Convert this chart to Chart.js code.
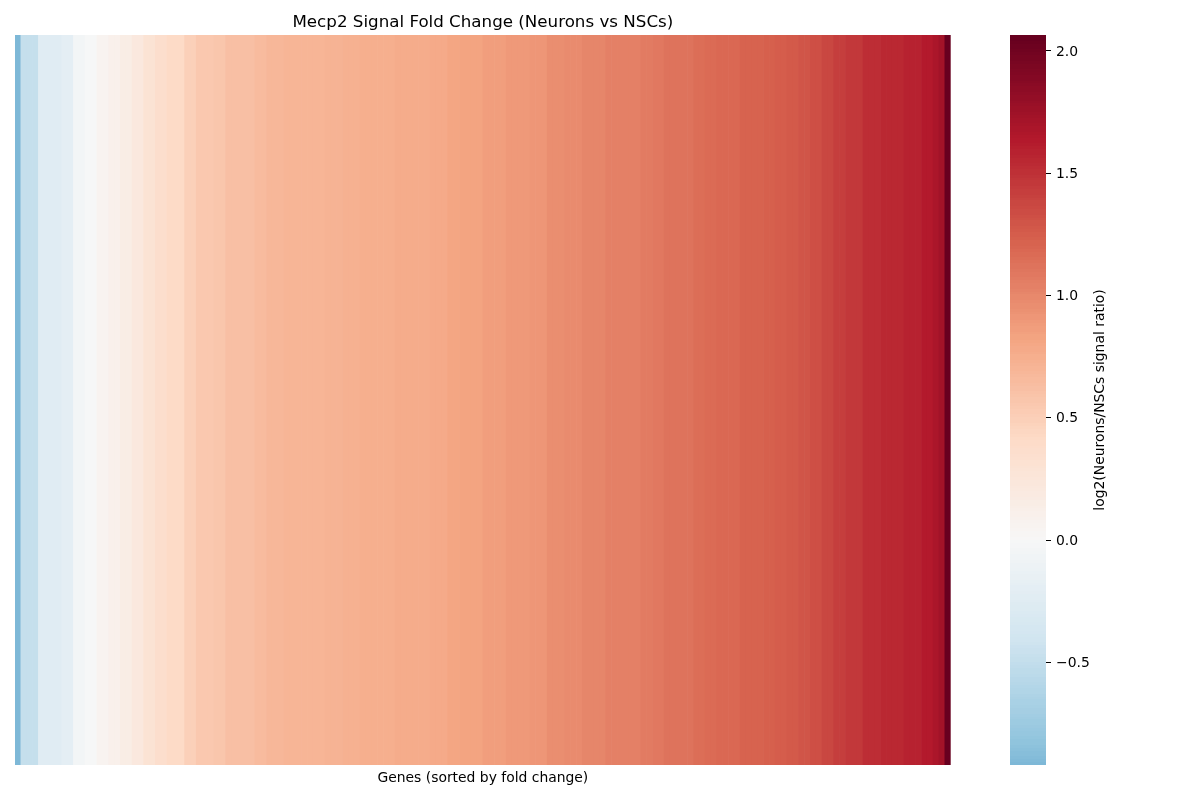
<!DOCTYPE html>
<html>
<head>
<meta charset="utf-8">
<script src="https://cdn.jsdelivr.net/npm/chart.js@4.4.1/dist/chart.umd.min.js"></script>
<style>
  body { margin: 0; background: #fff; }
  #wrap { position: relative; width: 1200px; height: 800px; }
  #heat { position: absolute; left: 0; top: 0; }
  #cbar { position: absolute; left: 1000px; top: 0; }
</style>
</head>
<body>
<div id="wrap">
  <canvas id="heat" width="966" height="800"></canvas>
  <canvas id="cbar" width="200" height="800"></canvas>
</div>
<script>
// log2 fold change per gene, sorted ascending
var foldChange = [
  -0.92, -0.49, -0.49, -0.49, -0.25, -0.25, -0.25, -0.25, -0.19, -0.19,
  -0.05, -0.05, 0.00, 0.00, 0.05, 0.05, 0.10, 0.10, 0.16, 0.16,
  0.22, 0.22, 0.30, 0.30, 0.36, 0.36, 0.42, 0.42, 0.42, 0.50,
  0.50, 0.55, 0.55, 0.55, 0.58, 0.58, 0.61, 0.61, 0.63, 0.63,
  0.63, 0.66, 0.66, 0.68, 0.68, 0.68, 0.69, 0.69, 0.70, 0.70,
  0.71, 0.71, 0.71, 0.72, 0.72, 0.72, 0.73, 0.73, 0.73, 0.74,
  0.74, 0.74, 0.75, 0.75, 0.75, 0.76, 0.76, 0.76, 0.77, 0.77,
  0.77, 0.79, 0.79, 0.79, 0.81, 0.81, 0.83, 0.83, 0.83, 0.83,
  0.86, 0.86, 0.86, 0.86, 0.89, 0.89, 0.89, 0.89, 0.92, 0.92,
  0.92, 0.95, 0.95, 0.95, 0.98, 0.98, 0.98, 1.01, 1.01, 1.01,
  1.01, 1.04, 1.04, 1.04, 1.05, 1.05, 1.05, 1.07, 1.07, 1.09,
  1.09, 1.11, 1.11, 1.13, 1.13, 1.13, 1.15, 1.15, 1.16, 1.16,
  1.18, 1.18, 1.19, 1.19, 1.21, 1.21, 1.22, 1.22, 1.23, 1.23,
  1.25, 1.25, 1.27, 1.27, 1.30, 1.30, 1.33, 1.33, 1.37, 1.37,
  1.42, 1.42, 1.47, 1.47, 1.47, 1.52, 1.52, 1.52, 1.55, 1.55,
  1.55, 1.55, 1.58, 1.58, 1.58, 1.64, 1.64, 1.68, 1.73, 2.065
];
var genes = foldChange.map(function(v, i) { return 'Gene ' + (i + 1); });
var colorbarTicks = [-0.5, 0.0, 0.5, 1.0, 1.5, 2.0];

var titleText = 'Mecp2 Signal Fold Change (Neurons vs NSCs)';
var xLabel = 'Genes (sorted by fold change)';
var cbLabel = 'log2(Neurons/NSCs signal ratio)';

// RdBu_r anchors
var anchors = [
  [5, 48, 97], [33, 102, 172], [67, 147, 195], [146, 197, 222], [209, 229, 240],
  [247, 247, 247], [253, 219, 199], [244, 165, 130], [214, 96, 77], [178, 24, 43], [103, 0, 31]
];
function rdbu(t) {
  t = Math.max(0, Math.min(1, t));
  var p = t * 10, i = Math.min(9, Math.floor(p)), f = p - i;
  var a = anchors[i], b = anchors[i + 1];
  return [0, 1, 2].map(function(k) { return a[k] + (b[k] - a[k]) * f; });
}
function lut(t) { // matplotlib 256 entry lookup
  var i = Math.min(255, Math.floor(t * 256));
  return rdbu(i / 255);
}

var vmin = Math.min.apply(null, foldChange);
var vmax = Math.max.apply(null, foldChange);
var vrange = Math.max(vmax, -vmin);
var cmin = (vmin + vrange) / (2 * vrange), cmax = (vmax + vrange) / (2 * vrange);

function rgb(c) {
  return 'rgb(' + Math.round(c[0]) + ',' + Math.round(c[1]) + ',' + Math.round(c[2]) + ')';
}
// seaborn recentred colormap around 0
function colorFor(v) {
  var j = Math.min(255, Math.max(0, Math.floor((v - vmin) / (vmax - vmin) * 256)));
  return rgb(lut(cmin + j * (cmax - cmin) / 255));
}

Chart.defaults.font.family = "'DejaVu Sans', sans-serif";
Chart.defaults.color = '#000';

new Chart(document.getElementById('heat'), {
  type: 'bar',
  data: {
    labels: genes,
    datasets: [{
      data: foldChange.map(function() { return 1; }),
      backgroundColor: foldChange.map(colorFor),
      borderWidth: 0,
      barPercentage: 1.0,
      categoryPercentage: 1.0
    }]
  },
  options: {
    responsive: false,
    animation: false,
    devicePixelRatio: 1,
    layout: { padding: { left: 15, right: 15.3, top: 0, bottom: 0 } },
    plugins: {
      legend: { display: false },
      tooltip: { enabled: false },
      title: {
        display: true,
        text: titleText,
        color: '#000',
        font: { size: 16.7, weight: 'normal' },
        padding: { top: 13, bottom: 2 }
      }
    },
    scales: {
      x: {
        grid: { display: false, drawTicks: false },
        border: { display: false },
        ticks: { display: false },
        title: {
          display: true,
          text: xLabel,
          color: '#000',
          font: { size: 13.9 },
          padding: { top: 4.6, bottom: 13.7 }
        }
      },
      y: { display: false, min: 0, max: 1 }
    }
  }
});

// colorbar label drawn rotated bottom-to-top like matplotlib
var cbLabelPlugin = {
  id: 'cbLabel',
  afterDraw: function(chart) {
    var ctx = chart.ctx, area = chart.chartArea;
    ctx.save();
    ctx.translate(100, (area.top + area.bottom) / 2);
    ctx.rotate(-Math.PI / 2);
    ctx.font = "13.9px 'DejaVu Sans', sans-serif";
    ctx.fillStyle = '#000';
    ctx.textAlign = 'center';
    ctx.textBaseline = 'middle';
    ctx.fillText(cbLabel, 0, 0);
    ctx.restore();
  }
};

new Chart(document.getElementById('cbar'), {
  type: 'bar',
  data: {
    labels: ['scale'],
    datasets: [{
      data: [[vmin, vmax]],
      borderWidth: 0,
      barPercentage: 1.0,
      categoryPercentage: 1.0,
      backgroundColor: function(context) {
        var area = context.chart.chartArea;
        if (!area) return null;
        var g = context.chart.ctx.createLinearGradient(0, area.bottom, 0, area.top);
        for (var j = 0; j < 256; j++) {
          var col = rgb(lut(cmin + j * (cmax - cmin) / 255));
          g.addColorStop(j / 256, col);
          g.addColorStop((j + 1) / 256, col);
        }
        return g;
      }
    }]
  },
  options: {
    responsive: false,
    animation: false,
    devicePixelRatio: 1,
    layout: { padding: { left: 10, right: 0, top: 35, bottom: 35 } },
    plugins: { legend: { display: false }, tooltip: { enabled: false } },
    scales: {
      x: { display: false },
      y: {
        position: 'right',
        min: vmin,
        max: vmax,
        afterFit: function(scale) { scale.width = 154; },
        afterBuildTicks: function(scale) {
          scale.ticks = colorbarTicks.map(function(v) { return { value: v }; });
        },
        grid: { drawOnChartArea: false, drawTicks: true, tickLength: 5, tickColor: '#000', tickWidth: 1 },
        border: { display: false },
        ticks: {
          padding: 5,
          labelOffset: 1,
          font: { size: 13.9 },
          color: '#000',
          callback: function(v) { return (v < 0 ? '\u2212' : '') + Math.abs(v).toFixed(1); }
        }
      }
    }
  },
  plugins: [cbLabelPlugin]
});
</script>
</body>
</html>
